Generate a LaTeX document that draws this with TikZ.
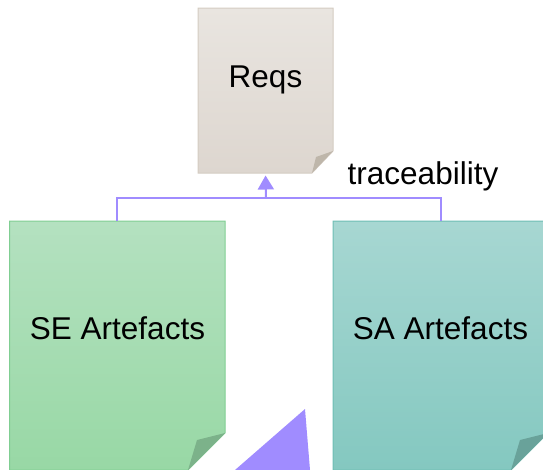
\documentclass[tikz,border=0pt]{standalone}
\usepackage{fontspec}
\setmainfont{Liberation Sans}
\usetikzlibrary{arrows.meta}

\definecolor{reqtop}{RGB}{233,229,224}
\definecolor{reqbot}{RGB}{221,214,207}
\definecolor{reqedge}{RGB}{212,204,194}
\definecolor{reqflap}{RGB}{190,182,170}
\definecolor{setop}{RGB}{180,225,192}
\definecolor{sebot}{RGB}{152,216,165}
\definecolor{seedge}{RGB}{128,206,146}
\definecolor{seflap}{RGB}{124,178,138}
\definecolor{satop}{RGB}{167,215,210}
\definecolor{sabot}{RGB}{132,200,192}
\definecolor{saedge}{RGB}{110,190,180}
\definecolor{saflap}{RGB}{105,162,154}
\definecolor{linkpurple}{RGB}{160,140,255}

\tikzset{
  box/.style={inner sep=0pt, outer sep=0pt},
  label text/.style={font=\fontsize{31.5}{36}\selectfont, inner sep=0pt},
  link/.style={draw=linkpurple, line width=2pt},
}

\begin{document}
\begin{tikzpicture}[x=1pt, y=-1pt]
  \useasboundingbox (0,0) rectangle (543,469);
  \clip (0,0) rectangle (543,469);

  % document boxes (placement frames)
  \node[box, minimum width=135pt, minimum height=165pt] (reqs) at (265.5,90.5) {};
  \node[box, minimum width=215.5pt, minimum height=249pt] (se) at (117.25,345.5) {};
  \node[box, minimum width=215pt, minimum height=249pt] (sa) at (440.5,345.5) {};

  % Reqs page with folded corner
  \path[top color=reqtop, bottom color=reqbot, draw=reqedge, line width=1pt]
    (reqs.north west) -- (reqs.north east) -- ([yshift=22pt]reqs.south east)
    -- ([xshift=-21pt]reqs.south east) -- (reqs.south west) -- cycle;
  \fill[reqflap] ([xshift=-21pt]reqs.south east) -- ([xshift=-17pt,yshift=16pt]reqs.south east)
    -- ([yshift=22pt]reqs.south east) -- cycle;

  % SE page
  \path[top color=setop, bottom color=sebot, draw=seedge, line width=1pt]
    (se.north west) -- (se.north east) -- ([yshift=37pt]se.south east)
    -- ([xshift=-37pt]se.south east) -- (se.south west) -- cycle;
  \fill[seflap] ([xshift=-37pt]se.south east) -- ([xshift=-28pt,yshift=30pt]se.south east)
    -- ([yshift=37pt]se.south east) -- cycle;

  % SA page
  \path[top color=satop, bottom color=sabot, draw=saedge, line width=1pt]
    (sa.north west) -- (sa.north east) -- ([yshift=37pt]sa.south east)
    -- ([xshift=-37pt]sa.south east) -- (sa.south west) -- cycle;
  \fill[saflap] ([xshift=-37pt]sa.south east) -- ([xshift=-28pt,yshift=30pt]sa.south east)
    -- ([yshift=37pt]sa.south east) -- cycle;

  % labels
  \node[label text] (reqslabel) at (265.5,80) {Reqs};
  \node[label text] (selabel) at (117.5,328) {SE Artefacts};
  \node[label text] (salabel) at (440.5,328) {SA Artefacts};
  \node[label text] (tracelabel) at (423,176) {traceability};

  % traceability links
  \coordinate (junction) at (266,197.5);
  \draw[link] (se.north) |- (junction) -| (sa.north);
  \draw[link, -{Triangle[width=16pt,length=14pt]}, shorten >=2.5pt] (junction) -- (reqs.south);

  % large arrowhead at the bottom edge
  \fill[linkpurple] (305,409) -- (310,470) -- (235,470) -- cycle;
\end{tikzpicture}
\end{document}
